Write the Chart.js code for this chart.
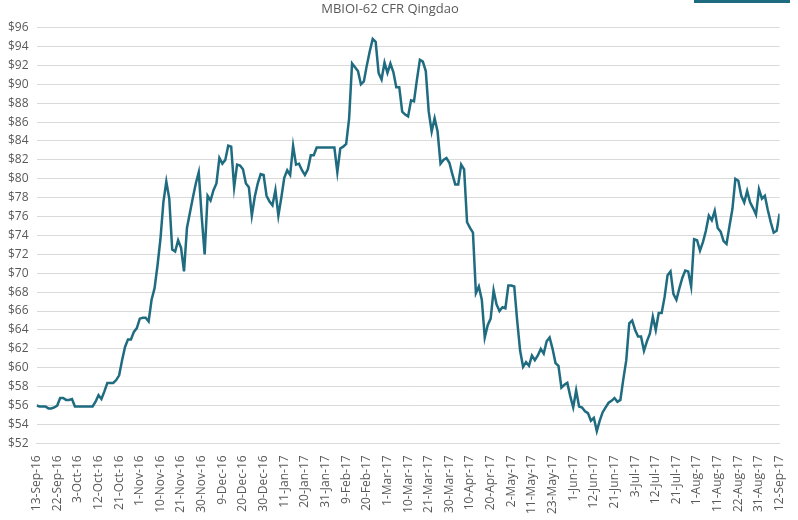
<!DOCTYPE html>
<html>
<head>
<meta charset="utf-8">
<script src="https://cdn.jsdelivr.net/npm/chart.js@4"></script>
<style>
  body { margin: 0; background: #fff; }
  #wrap { position: relative; width: 798px; height: 520px; }
  #bar { position: absolute; left: 694px; top: 0; width: 96px; height: 3px; background: #1f6b80; }
</style>
</head>
<body>
<div id="wrap">
  <canvas id="myChart" width="798" height="520"></canvas>
  <div id="bar"></div>
</div>
<script>
// tick labels, one every 7 trading days
const tickLabels = ['13-Sep-16','22-Sep-16','3-Oct-16','12-Oct-16','21-Oct-16','1-Nov-16','10-Nov-16',
  '21-Nov-16','30-Nov-16','9-Dec-16','20-Dec-16','30-Dec-16','11-Jan-17','20-Jan-17','31-Jan-17',
  '9-Feb-17','20-Feb-17','1-Mar-17','10-Mar-17','21-Mar-17','30-Mar-17','10-Apr-17','20-Apr-17',
  '2-May-17','11-May-17','23-May-17','1-Jun-17','12-Jun-17','21-Jun-17','3-Jul-17','12-Jul-17',
  '21-Jul-17','1-Aug-17','11-Aug-17','22-Aug-17','31-Aug-17','12-Sep-17']

// daily price, USD/t
const prices = [
  56.0,55.9,55.9,55.9,55.7,55.7,55.8,56.0,56.8,56.8,56.6,56.6,56.7,
  55.9,55.9,55.9,55.9,55.9,55.9,55.9,
  56.4,57.1,56.7,57.5,58.4,58.4,58.4,58.7,59.2,60.8,62.2,63.0,63.0,63.8,64.2,65.2,65.3,65.3,64.9,
  67.2,68.4,70.8,73.6,77.5,79.7,77.9,72.5,72.3,73.5,72.7,70.2,74.8,76.4,78.0,79.5,80.7,76.0,72.0,
  78.2,77.7,78.8,79.5,82.2,81.6,82.0,83.5,83.4,79.1,81.5,81.4,81.0,79.5,79.1,76.1,78.1,79.5,80.5,
  80.4,78.2,77.6,77.2,78.8,76.1,78.0,80.1,80.9,80.4,83.5,81.5,81.6,80.9,80.4,81.0,82.5,82.5,83.3,
  83.3,83.3,83.3,83.3,83.3,83.3,80.7,83.2,83.4,83.7,86.4,92.2,91.8,91.4,90.0,90.3,92.0,93.5,94.8,
  94.5,91.2,90.5,92.3,91.2,92.2,91.3,89.7,89.7,87.1,86.8,86.6,88.3,88.2,90.5,92.6,92.4,91.4,87.1,
  85.0,86.4,85.0,81.6,82.0,82.2,81.7,80.5,79.4,79.4,81.5,81.0,75.4,74.8,74.3,67.9,68.6,67.2,63.2,
  64.5,65.2,68.2,66.7,66.0,66.4,66.3,68.7,68.7,68.6,65.0,61.8,60.1,60.6,60.2,61.3,60.8,61.3,62.0,
  61.5,62.8,63.2,62.0,60.5,60.2,57.9,58.2,58.4,57.0,55.8,57.6,55.9,55.8,55.4,55.2,54.4,54.7,53.3,
  54.4,55.3,55.8,56.3,56.5,56.8,56.4,56.6,58.8,60.8,64.7,65.0,64.0,63.3,63.3,61.8,62.8,63.6,65.4,
  64.0,65.8,65.8,67.5,69.8,70.2,67.8,67.2,68.4,69.5,70.3,70.2,68.6,73.6,73.5,72.4,73.3,74.5,76.1,
  75.6,76.6,74.8,74.4,73.4,73.1,75.0,76.8,80.0,79.8,78.2,77.5,78.7,77.5,76.9,76.2,78.9,77.9,78.2,
  76.7,75.4,74.3,74.5,76.3
]

const lineColor = '#1f6b80'
const textColor = '#595959'
const gridColor = '#d9d9d9'

window.onload = () => {
  const ctx = document.getElementById('myChart')
  const points = prices.map((p, i) => ({ x: i, y: p }))

  new Chart(ctx, {
    type: 'line',
    data: {
      datasets: [{
        label: 'MBIOI-62 CFR Qingdao',
        data: points,
        borderColor: lineColor,
        borderWidth: 2.5,
        pointRadius: 0,
        tension: 0,
        fill: false
      }]
    },
    options: {
      responsive: false,
      animation: false,
      layout: { padding: { left: 0, right: 18, top: 0, bottom: 2 } },
      plugins: {
        legend: { display: false },
        tooltip: { enabled: false },
        title: {
          display: true,
          text: 'MBIOI-62 CFR Qingdao',
          color: textColor,
          font: { family: 'Open Sans', size: 13, weight: 'normal' },
          padding: { top: 1, bottom: 11 }
        }
      },
      scales: {
        x: {
          type: 'linear',
          min: 0,
          max: (tickLabels.length - 1) * 7,
          grid: { display: false },
          border: { color: gridColor },
          ticks: {
            stepSize: 7,
            autoSkip: false,
            maxRotation: 90,
            minRotation: 90,
            padding: 4,
            color: textColor,
            font: { family: 'Open Sans', size: 12 },
            callback: (v) => tickLabels[Math.round(v / 7)]
          },
          afterBuildTicks: (axis) => {
            axis.ticks = tickLabels.map((t, i) => ({ value: i * 7 }))
          }
        },
        y: {
          min: 52,
          max: 96,
          grid: { color: gridColor, drawTicks: false },
          border: { display: false },
          ticks: {
            stepSize: 2,
            padding: 8,
            color: textColor,
            font: { family: 'Open Sans', size: 12 },
            callback: (v) => '$' + v
          }
        }
      }
    }
  })
}
</script>
</body>
</html>
